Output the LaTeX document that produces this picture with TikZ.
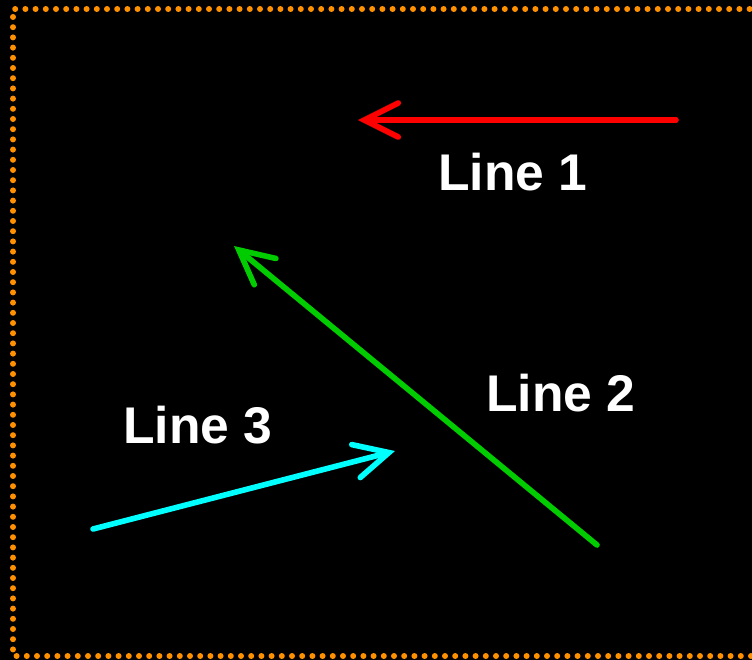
\documentclass[tikz,border=0pt]{standalone}
\usepackage{fontspec}
\setmainfont{Liberation Sans}
\usetikzlibrary{arrows.meta}
\definecolor{frameorange}{RGB}{255,145,0}
\definecolor{linegreen}{RGB}{0,204,0}
\definecolor{linecyan}{RGB}{0,255,255}
\begin{document}
\begin{tikzpicture}[x=0.5pt, y=-0.5pt,
    lbl/.style={text=white, font=\bfseries\fontsize{25.8}{30}\selectfont},
    ray/.style={line width=2.8pt, line cap=round,
      -{Straight Barb[length=17pt, width=17pt, line cap=round]}}]
    \useasboundingbox (0,0) rectangle (752,660);
    \fill[black] (0,0) rectangle (752,660);
    \draw[frameorange, line width=3pt, line cap=round, dash pattern=on 0pt off 5.1pt]
       (770,9) -- (13,9) -- (13,656) -- (770,656);
    % end points of the three lines
    \coordinate (s1) at (676,120);
    \coordinate (e1) at (358,120);
    \coordinate (s2) at (597,545);
    \coordinate (e2) at (234,246);
    \coordinate (s3) at (93,529);
    \coordinate (e3) at (395,451);
    \draw[ray, red] (s1) -- (e1);
    \draw[ray, linegreen] (s2) -- (e2);
    \draw[ray, linecyan] (s3) -- (e3);
    \node[lbl] (l1) at (513,172) {Line 1};
    \node[lbl] (l2) at (561,393) {Line 2};
    \node[lbl] (l3) at (198,425) {Line 3};
\end{tikzpicture}
\end{document}
